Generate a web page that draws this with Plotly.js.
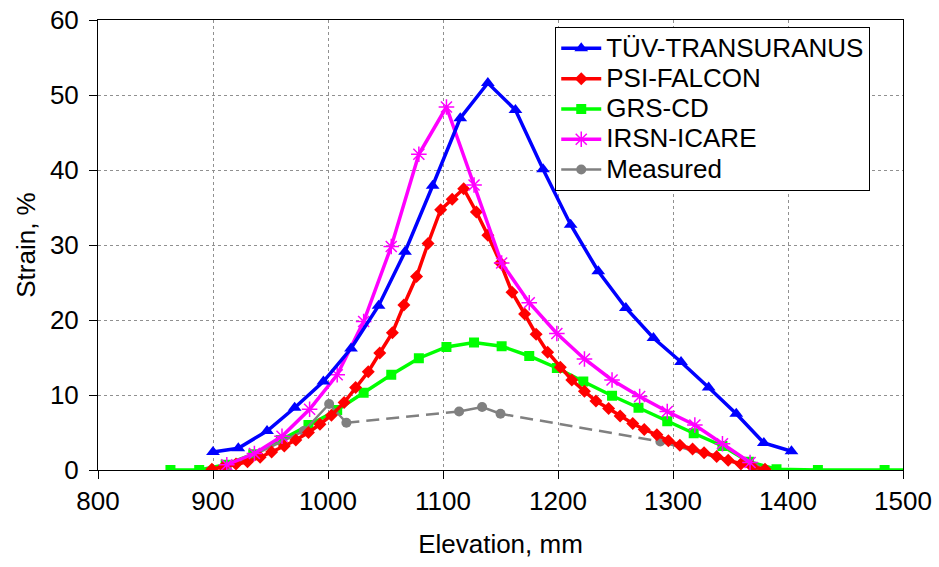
<!DOCTYPE html>
<html>
<head>
<meta charset="utf-8">
<script src="https://cdn.plot.ly/plotly-3.0.1.min.js"></script>
<style>html,body{margin:0;padding:0;background:#fff;}#chart{width:939px;height:567px;}</style>
</head>
<body>
<div id="chart"></div>
<script>
// TÜV-TRANSURANUS
const tuvX = [900, 922, 947, 971, 996, 1020, 1044, 1067, 1091, 1115, 1139, 1163, 1187, 1211, 1235, 1259, 1283, 1307, 1331, 1355, 1379, 1403];
const tuvY = [2.4, 2.9, 5.2, 8.3, 11.8, 16.2, 21.9, 29.1, 37.9, 46.9, 51.6, 48.0, 40.1, 32.7, 26.5, 21.6, 17.6, 14.4, 11.0, 7.5, 3.6, 2.5];

// PSI-FALCON
const psiX = [899, 909, 920, 930, 941, 951, 962, 972, 983, 993, 1003, 1014, 1024, 1035, 1045, 1056, 1066, 1077, 1087, 1098, 1108, 1118, 1129, 1139, 1150, 1160, 1171, 1181, 1191, 1202, 1212, 1223, 1233, 1244, 1254, 1265, 1275, 1286, 1296, 1306, 1317, 1327, 1338, 1348, 1359, 1369, 1380];
const psiY = [0.1, 0.4, 0.8, 1.1, 1.7, 2.4, 3.2, 4.0, 5.0, 6.1, 7.3, 9.0, 11.0, 13.1, 15.6, 18.3, 22.0, 25.8, 30.2, 34.7, 36.1, 37.5, 34.4, 31.3, 27.6, 23.7, 20.8, 18.1, 15.7, 13.7, 12.0, 10.5, 9.2, 8.2, 7.2, 6.2, 5.4, 4.7, 3.9, 3.3, 2.8, 2.3, 1.8, 1.3, 0.8, 0.4, 0.1];

// GRS-CD
const grsX = [863, 888, 911, 935, 959, 983, 1008, 1031, 1055, 1079, 1103, 1127, 1151, 1175, 1199, 1222, 1247, 1270, 1295, 1318, 1343, 1366, 1390, 1426, 1484, 1540];
const grsY = [0, 0, 0.7, 2.1, 4.0, 6.0, 8.0, 10.3, 12.7, 14.9, 16.4, 17.0, 16.5, 15.2, 13.6, 11.8, 9.9, 8.3, 6.5, 4.9, 3.2, 1.1, 0.1, 0, 0, 0];

// IRSN-ICARE
const irsnX = [912, 936, 960, 984, 1008, 1031, 1055, 1079, 1103, 1127, 1151, 1175, 1199, 1223, 1247, 1271, 1295, 1319, 1343, 1367];
const irsnY = [0.7, 2.2, 4.5, 8.1, 12.7, 19.8, 29.8, 42.1, 48.4, 38.0, 27.6, 22.3, 18.2, 14.8, 12.0, 9.8, 7.8, 6.0, 3.5, 1.0];

// Measured (solid segments; null separates segments)
const measX = [912, 979, 1001, 1016, null, 1114, 1134, 1150, null, 1289, 1372];
const measY = [0.3, 5.2, 8.8, 6.3, null, 7.8, 8.4, 7.5, null, 3.8, 0.2];
// Measured dashed bridges
const measDashX = [1016, 1114, null, 1150, 1289];
const measDashY = [6.3, 7.8, null, 7.5, 3.8];

const xTicks = [800, 900, 1000, 1100, 1200, 1300, 1400, 1500];
const yTicks = [0, 10, 20, 30, 40, 50, 60];

const seriesNames = ['TÜV-TRANSURANUS', 'PSI-FALCON', 'GRS-CD', 'IRSN-ICARE', 'Measured'];
const lg = s => '<span style="font-size:26px">' + s + '</span>';

const traces = [
  {x: measDashX, y: measDashY, mode: 'lines', name: seriesNames[4], showlegend: false, hoverinfo: 'skip',
   line: {color: '#808080', width: 2.5, dash: '13px,7px'}},
  {x: grsX, y: grsY, mode: 'lines+markers', name: lg(seriesNames[2]), legendrank: 3,
   line: {color: '#00FF00', width: 3.5}, marker: {symbol: 'square', size: 10, color: '#00FF00'}},
  {x: measX, y: measY, mode: 'lines+markers', name: lg(seriesNames[4]), legendrank: 5, connectgaps: false,
   line: {color: '#808080', width: 2.5}, marker: {symbol: 'circle', size: 10, color: '#808080'}},
  {x: psiX, y: psiY, mode: 'lines+markers', name: lg(seriesNames[1]), legendrank: 2,
   line: {color: '#FF0000', width: 3.5}, marker: {symbol: 'diamond', size: 10, color: '#FF0000'}},
  {x: irsnX, y: irsnY, mode: 'lines+markers', name: lg(seriesNames[3]), legendrank: 4,
   line: {color: '#FF00FF', width: 3.5}, marker: {symbol: 'asterisk-open', size: 13, color: '#FF00FF', line: {color: '#FF00FF', width: 1.5}}},
  {x: tuvX, y: tuvY, mode: 'lines+markers', name: lg(seriesNames[0]), legendrank: 1,
   line: {color: '#0000FF', width: 3.5}, marker: {symbol: 'triangle-up', size: 12, color: '#0000FF'}}
];

const axisFont = {family: 'Liberation Sans, Arial, sans-serif', size: 26, color: '#000'};

const layout = {
  width: 939, height: 567,
  margin: {l: 98, r: 36, t: 20, b: 97},
  paper_bgcolor: '#fff', plot_bgcolor: '#fff',
  font: axisFont,
  showlegend: true,
  legend: {
    x: 0.568, y: 0.984, xanchor: 'left', yanchor: 'top',
    bgcolor: '#fff', bordercolor: '#000', borderwidth: 1,
    font: {family: 'Liberation Sans, Arial, sans-serif', size: 21, color: '#000'},
    tracegroupgap: 0, itemwidth: 40
  },
  xaxis: {
    range: [800, 1500], tickvals: xTicks, ticktext: xTicks.map(String),
    showline: true, mirror: true, linecolor: '#000', linewidth: 1,
    ticks: 'outside', ticklen: 8, tickcolor: '#000',
    showgrid: true, gridcolor: '#909090', griddash: 'dot', gridwidth: 1,
    zeroline: false, tickfont: axisFont,
    title: {text: 'Elevation, mm', font: axisFont, standoff: 19}
  },
  yaxis: {
    range: [0, 60], tickvals: yTicks, ticktext: yTicks.map(String),
    showline: true, mirror: true, linecolor: '#000', linewidth: 1,
    ticks: 'outside', ticklen: 8, tickcolor: '#000', ticklabelstandoff: 5,
    showgrid: true, gridcolor: '#909090', griddash: 'dot', gridwidth: 1,
    zeroline: false, tickfont: axisFont,
    title: {text: 'Strain, %', font: axisFont, standoff: 6}
  }
};

Plotly.newPlot('chart', traces, layout, {displayModeBar: false, staticPlot: true});
</script>
</body>
</html>
